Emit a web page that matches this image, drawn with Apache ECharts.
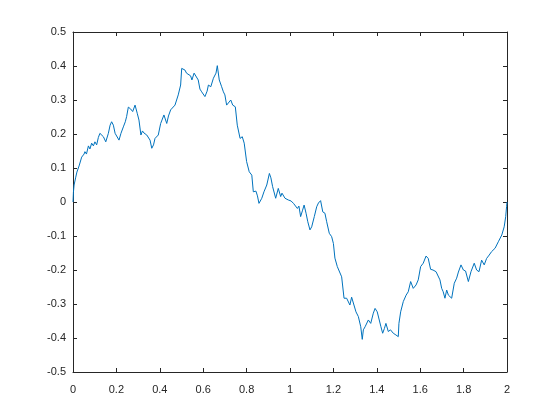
<!DOCTYPE html>
<html>
<head>
<meta charset="utf-8">
<title>curve</title>
<script src="https://cdn.jsdelivr.net/npm/echarts@6/dist/echarts.min.js"></script>
<style>
  html, body { margin: 0; padding: 0; background: #fff; }
  #main { width: 560px; height: 420px; }
</style>
</head>
<body>
<div id="main"></div>
<script type="text/javascript">
    // values
    var xs = [0, 0.002, 0.005, 0.012, 0.018, 0.028, 0.040, 0.051, 0.055, 0.062,
        0.071, 0.078, 0.086, 0.094, 0.101, 0.109, 0.117, 0.124, 0.132, 0.140,
        0.151, 0.163, 0.171, 0.178, 0.186, 0.194, 0.201, 0.212, 0.221, 0.232,
        0.241, 0.247, 0.255, 0.265, 0.275, 0.286, 0.296, 0.304, 0.313, 0.320,
        0.327, 0.340, 0.346, 0.355, 0.363, 0.371, 0.378, 0.386, 0.393, 0.404,
        0.410, 0.419, 0.432, 0.440, 0.450, 0.459, 0.470, 0.485, 0.496, 0.501,
        0.516, 0.523, 0.531, 0.542, 0.548, 0.558, 0.567, 0.577, 0.585, 0.593,
        0.601, 0.608, 0.618, 0.624, 0.635, 0.647, 0.659, 0.665, 0.674, 0.685,
        0.693, 0.700, 0.708, 0.716, 0.727, 0.736, 0.748, 0.757, 0.770, 0.780,
        0.789, 0.800, 0.812, 0.824, 0.831, 0.843, 0.850, 0.857, 0.870, 0.880,
        0.893, 0.905, 0.912, 0.920, 0.934, 0.946, 0.957, 0.963, 0.977, 0.992,
        1.005, 1.016, 1.023, 1.034, 1.041, 1.049, 1.058, 1.065, 1.074, 1.082,
        1.092, 1.100, 1.112, 1.123, 1.131, 1.141, 1.151, 1.161, 1.169, 1.181,
        1.192, 1.200, 1.207, 1.218, 1.227, 1.238, 1.249, 1.261, 1.269, 1.276,
        1.284, 1.292, 1.304, 1.315, 1.326, 1.333, 1.338, 1.346, 1.353, 1.361,
        1.372, 1.384, 1.392, 1.402, 1.410, 1.419, 1.427, 1.435, 1.442, 1.453,
        1.463, 1.476, 1.488, 1.499, 1.502, 1.510, 1.522, 1.535, 1.545, 1.556,
        1.568, 1.581, 1.591, 1.602, 1.614, 1.627, 1.637, 1.648, 1.659, 1.673,
        1.682, 1.691, 1.699, 1.706, 1.714, 1.722, 1.730, 1.737, 1.745, 1.757,
        1.768, 1.776, 1.788, 1.799, 1.809, 1.822, 1.834, 1.849, 1.860, 1.871,
        1.883, 1.895, 1.906, 1.918, 1.929, 1.945, 1.960, 1.976, 1.987, 1.994,
        1.998, 2.000];
    var ys = [0, 0.029, 0.050, 0.071, 0.088, 0.106, 0.132, 0.141, 0.148, 0.141,
        0.165, 0.156, 0.173, 0.165, 0.177, 0.168, 0.190, 0.202, 0.207, 0.192,
        0.177, 0.202, 0.226, 0.236, 0.226, 0.202, 0.197, 0.182, 0.202, 0.221,
        0.236, 0.251, 0.279, 0.274, 0.266, 0.285, 0.261, 0.241, 0.197, 0.209,
        0.203, 0.197, 0.202, 0.182, 0.158, 0.168, 0.187, 0.192, 0.197, 0.231,
        0.241, 0.256, 0.231, 0.253, 0.271, 0.268, 0.285, 0.315, 0.344, 0.393,
        0.388, 0.379, 0.383, 0.371, 0.359, 0.379, 0.383, 0.359, 0.332, 0.324,
        0.329, 0.310, 0.326, 0.344, 0.339, 0.364, 0.379, 0.401, 0.359, 0.339,
        0.324, 0.315, 0.285, 0.280, 0.300, 0.285, 0.280, 0.226, 0.187, 0.192,
        0.173, 0.119, 0.089, 0.079, 0.030, 0.032, 0.018, -0.004, 0.011, 0.030,
        0.050, 0.084, 0.071, 0.045, 0.011, 0.040, 0.016, 0.026, 0.011, 0.006,
        0.003, -0.004, -0.009, -0.019, -0.012, -0.043, -0.024, -0.009, -0.033, -0.058,
        -0.082, -0.073, -0.043, -0.014, -0.003, 0.004, -0.029, -0.033, -0.058, -0.092,
        -0.102, -0.122, -0.165, -0.190, -0.185, -0.220, -0.283, -0.283, -0.288, -0.303,
        -0.280, -0.283, -0.323, -0.337, -0.367, -0.404, -0.376, -0.367, -0.362, -0.347,
        -0.357, -0.327, -0.313, -0.323, -0.326, -0.367, -0.386, -0.372, -0.357, -0.381,
        -0.376, -0.386, -0.391, -0.396, -0.357, -0.323, -0.293, -0.274, -0.264, -0.234,
        -0.254, -0.244, -0.229, -0.190, -0.180, -0.159, -0.166, -0.198, -0.200, -0.205,
        -0.206, -0.229, -0.254, -0.264, -0.283, -0.259, -0.274, -0.276, -0.283, -0.239,
        -0.224, -0.206, -0.185, -0.200, -0.203, -0.234, -0.205, -0.180, -0.200, -0.205,
        -0.171, -0.185, -0.166, -0.156, -0.146, -0.136, -0.117, -0.097, -0.073, -0.043,
        -0.014, 0];

    var xTicks = { min: 0, max: 2, step: 0.2 };
    var yTicks = { min: -0.5, max: 0.5, step: 0.1 };

    var pts = xs.map(function (x, i) { return [x, ys[i]]; });

    var axisColor = '#262626';
    var font = 'Liberation Sans, Arial, Helvetica, sans-serif';

    function fmt(v) {
        return String(+v.toFixed(1));
    }

    function xAx(pos, showLabel) {
        return {
            type: 'value', position: pos,
            min: xTicks.min, max: xTicks.max, interval: xTicks.step,
            axisLine: { show: true, onZero: false, lineStyle: { color: axisColor, width: 1 } },
            axisTick: { show: true, inside: true, length: 4, lineStyle: { color: axisColor } },
            axisLabel: { show: showLabel, color: axisColor, fontSize: 11, fontFamily: font, margin: 12, formatter: fmt },
            splitLine: { show: false }
        };
    }
    function yAx(pos, showLabel) {
        return {
            type: 'value', position: pos,
            min: yTicks.min, max: yTicks.max, interval: yTicks.step,
            axisLine: { show: true, onZero: false, lineStyle: { color: axisColor, width: 1 } },
            axisTick: { show: true, inside: true, length: 4, lineStyle: { color: axisColor } },
            axisLabel: { show: showLabel, color: axisColor, fontSize: 11, fontFamily: font, margin: 7, formatter: fmt },
            splitLine: { show: false }
        };
    }

    var myChart = echarts.init(document.getElementById('main'), null, { renderer: 'canvas' });
    var option = {
        backgroundColor: '#ffffff',
        animation: false,
        grid: { left: 73, right: 53, top: 32, bottom: 48, containLabel: false },
        xAxis: [xAx('bottom', true), xAx('top', false)],
        yAxis: [yAx('left', true), yAx('right', false)],
        series: [{
            type: 'line',
            xAxisIndex: 0,
            yAxisIndex: 0,
            data: pts,
            showSymbol: false,
            smooth: false,
            lineStyle: { color: '#0072BD', width: 1 }
        }]
    };
    myChart.setOption(option);
</script>
</body>
</html>
